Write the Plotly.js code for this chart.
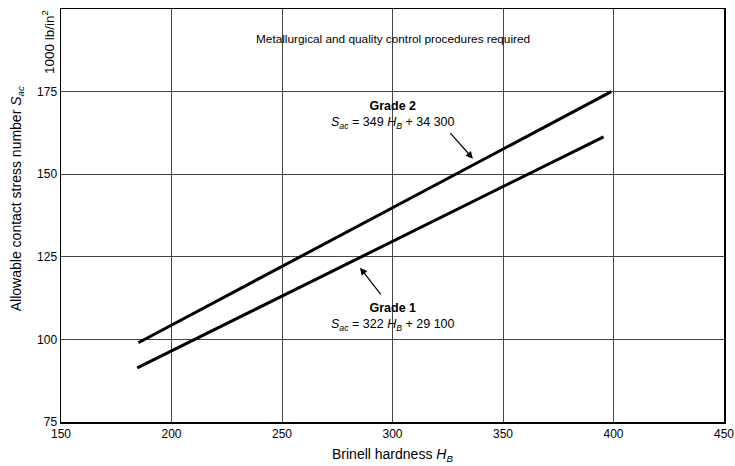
<!DOCTYPE html>
<html><head><meta charset="utf-8">
<script src="https://cdn.plot.ly/plotly-3.0.1.min.js"></script>
<style>html,body{margin:0;padding:0;background:#fff}#c{width:735px;height:466px}</style>
</head><body><div id="c"></div>
<script>
var grade2X = [185, 399];
var grade2Y = [99.0, 175.0];
var grade1X = [184.5, 395.5];
var grade1Y = [91.4, 161.3];
var xTicks = [150, 200, 250, 300, 350, 400, 450];
var yTicks = [75, 100, 125, 150, 175];
var yTickText = ['75', '100', '125', '150', '175'];

var F = 'Liberation Sans, Arial, Helvetica, sans-serif';
var traces = [
  {x: grade2X, y: grade2Y, mode: 'lines', line: {color: '#000', width: 3}, hoverinfo: 'none'},
  {x: grade1X, y: grade1Y, mode: 'lines', line: {color: '#000', width: 3}, hoverinfo: 'none'}
];
var layout = {
  width: 735, height: 466,
  margin: {l: 61, r: 11, t: 9, b: 44},
  paper_bgcolor: '#fff', plot_bgcolor: '#fff',
  showlegend: false,
  font: {family: F, size: 12, color: '#000'},
  xaxis: {range: [150, 450], tickvals: xTicks, ticktext: xTicks.map(String),
    showgrid: true, gridcolor: '#444', gridwidth: 1, zeroline: false,
    showline: true, linecolor: '#000', linewidth: 1.5, mirror: true, ticks: '',
    tickfont: {family: F, size: 12, color: '#000'}},
  yaxis: {range: [75, 200], tickvals: yTicks, ticktext: yTickText,
    showgrid: true, gridcolor: '#444', gridwidth: 1, zeroline: false,
    showline: true, linecolor: '#000', linewidth: 1.5, mirror: true, ticks: '',
    tickfont: {family: F, size: 12, color: '#000'}},
  annotations: [
    {x: 300, y: 190.8, xref: 'x', yref: 'y', showarrow: false, xanchor: 'center', yanchor: 'middle',
     text: 'Metallurgical and quality control procedures required', font: {size: 11.8}},
    {x: 300, y: 168, xref: 'x', yref: 'y', showarrow: false, xanchor: 'center', yanchor: 'middle',
     text: '<b>Grade 2</b><br><i>S</i><sub><i>ac</i></sub> = 349 <i>H</i><sub><i>B</i></sub> + 34 300', font: {size: 12.5}},
    {x: 300, y: 106.8, xref: 'x', yref: 'y', showarrow: false, xanchor: 'center', yanchor: 'middle',
     text: '<b>Grade 1</b><br><i>S</i><sub><i>ac</i></sub> = 322 <i>H</i><sub><i>B</i></sub> + 29 100', font: {size: 12.5}},
    {x: 336.4, y: 154.7, ax: 325.6, ay: 162.9, xref: 'x', yref: 'y', axref: 'x', ayref: 'y',
     text: '', showarrow: true, arrowhead: 2, arrowsize: 1.2, arrowwidth: 1.2, arrowcolor: '#000'},
    {x: 285.3, y: 121.7, ax: 295.2, ay: 113.2, xref: 'x', yref: 'y', axref: 'x', ayref: 'y',
     text: '', showarrow: true, arrowhead: 2, arrowsize: 1.2, arrowwidth: 1.2, arrowcolor: '#000'},
    {x: -0.066, y: 0.54, xref: 'paper', yref: 'paper', showarrow: false, textangle: -90,
     xanchor: 'center', yanchor: 'middle',
     text: 'Allowable contact stress number <i>S</i><sub><i>ac</i></sub>', font: {size: 14}},
    {x: -0.0196, y: 0.92, xref: 'paper', yref: 'paper', showarrow: false, textangle: -90,
     xanchor: 'center', yanchor: 'middle',
     text: '1000 lb/in<sup>2</sup>', font: {size: 13.5}},
    {x: 0.5, y: -0.08, xref: 'paper', yref: 'paper', showarrow: false,
     xanchor: 'center', yanchor: 'middle',
     text: 'Brinell hardness <i>H</i><sub><i>B</i></sub>', font: {size: 14}}
  ]
};
Plotly.newPlot('c', traces, layout, {staticPlot: true, displayModeBar: false});
</script></body></html>
